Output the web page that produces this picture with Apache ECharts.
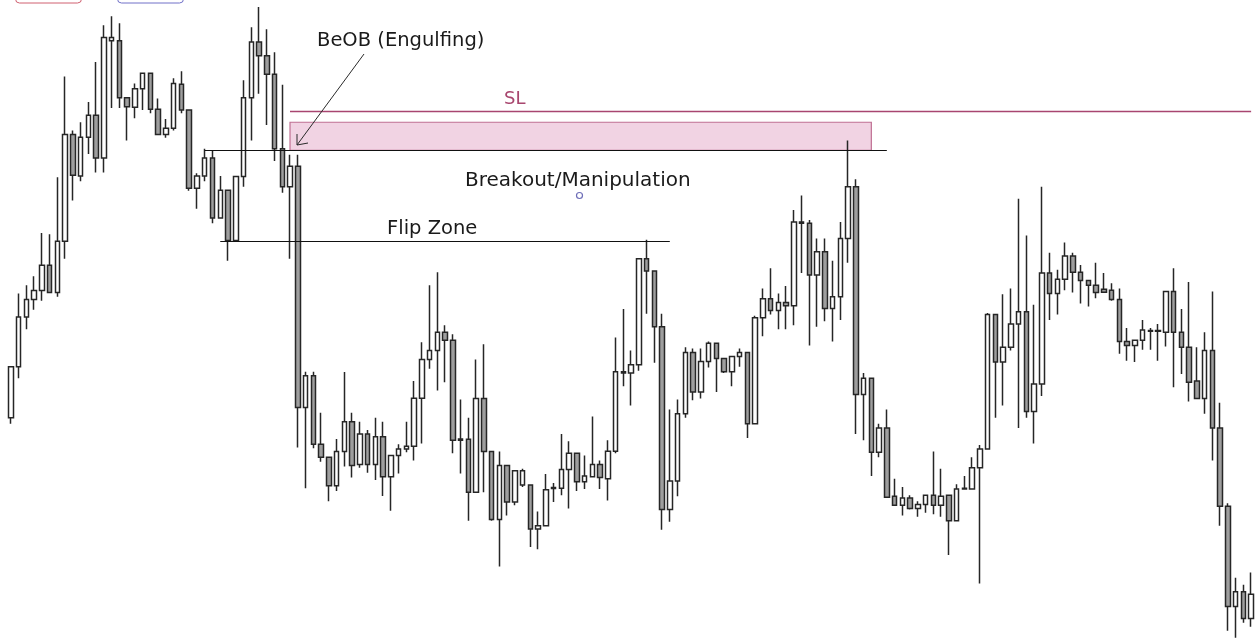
<!DOCTYPE html>
<html>
<head>
<meta charset="utf-8">
<script src="https://cdn.jsdelivr.net/npm/echarts@6/dist/echarts.min.js"></script>
<style>
html,body{margin:0;padding:0;background:#fff;}
#chart{width:1255px;height:639px;}
</style>
</head>
<body>
<div id="chart"></div>
<script>
// Price values (arbitrary price units)
const openP = [
 543,668,790,833,855,917,850,976,1238,1136,
 1231,1285,1180,1468,1468,1328,1305,1350,1388,1300,
 1238,1253,1361,1298,1106,1136,1180,1033,1101,978,
 1135,1328,1465,1431,1386,1203,1110,1160,568,646,
 478,446,376,460,533,428,503,428,496,398,
 450,466,473,591,686,708,753,733,491,490,
 360,590,460,293,426,336,378,378,270,278,
 369,370,416,456,386,398,428,393,461,653,
 653,673,933,903,766,318,388,553,703,606,
 681,726,688,656,693,703,528,788,835,806,
 826,818,1023,1020,893,950,811,840,983,1110,
 600,640,458,518,350,328,346,320,330,353,
 328,353,290,368,368,420,466,796,680,716,
 773,803,558,626,898,848,883,940,900,880,
 868,858,856,833,730,720,733,755,755,753,
 853,753,716,633,590,708,518,326,80,116,
 50
];
const closeP = [
 668,790,833,855,917,850,976,1238,1138,1231,
 1285,1180,1476,1476,1328,1306,1350,1388,1300,1238,
 1253,1363,1298,1106,1136,1180,1033,1101,978,1135,
 1328,1465,1431,1386,1203,1110,1160,568,646,478,
 446,376,460,533,426,503,428,496,398,450,
 466,473,591,686,708,753,733,488,488,360,
 590,460,293,426,336,413,413,270,278,366,
 372,416,456,386,400,428,396,461,656,656,
 673,933,903,766,318,388,553,703,606,681,
 726,688,656,693,703,528,788,835,806,826,
 818,1023,1020,893,950,811,840,983,1110,600,
 640,458,518,348,328,346,320,330,353,328,
 350,290,368,370,420,466,796,680,716,773,
 803,558,626,898,848,883,940,900,880,868,
 850,851,833,730,720,733,758,757,757,853,
 753,716,630,590,708,518,326,80,116,50,
 110
];
const lowP = [
 528,640,760,808,830,850,840,933,1076,1123,
 1190,1145,1145,1303,1303,1223,1278,1298,1290,1238,
 1230,1248,1290,1100,1056,1123,1020,1033,928,978,
 1110,1223,1338,1261,1173,1095,933,470,370,468,
 435,338,363,423,396,420,408,390,351,315,
 406,458,438,480,663,610,630,456,406,290,
 360,360,290,178,303,328,373,226,220,278,
 336,353,320,363,368,398,368,340,456,620,
 573,658,798,678,268,288,350,543,586,590,
 666,606,653,620,668,493,528,743,796,760,
 760,770,898,720,766,780,730,783,923,503,
 488,400,446,346,328,303,318,300,310,306,
 300,206,290,368,368,136,466,543,573,708,
 518,543,480,596,783,796,856,850,823,816,
 836,851,830,700,683,680,710,710,683,718,
 618,650,583,590,553,438,278,20,3,40,
 30
];
const highP = [
 668,848,868,890,996,993,1133,1380,1248,1268,
 1318,1416,1506,1528,1511,1328,1363,1388,1388,1326,
 1276,1376,1393,1300,1143,1203,1198,1136,1101,1135,
 1371,1501,1551,1496,1440,1360,1188,1188,656,656,
 555,446,491,655,555,533,513,543,533,450,
 478,533,633,728,868,900,770,748,588,543,
 686,723,460,460,426,413,418,378,313,405,
 383,503,485,456,450,546,438,488,740,810,
 708,933,980,903,798,563,588,716,713,713,
 730,726,688,693,713,703,793,860,910,848,
 866,1053,1088,1028,983,983,928,1023,1223,1128,
 653,640,528,563,393,373,353,338,353,460,
 418,353,380,400,446,476,800,796,846,860,
 1080,990,820,1110,948,906,973,948,918,880,
 923,898,873,860,763,733,783,763,773,853,
 910,810,876,716,753,853,580,333,150,133,
 163
];
const categories = openP.map((_, i) => 'C' + (i + 1));

// Annotation levels (price units)
const beobLevel = 1199;      // black level line
const zoneTop = 1268;        // top of pink order-block box
const slLevel = 1296;        // SL line
const flipLevel = 975;       // Flip Zone line

const candleData = openP.map((o, i) => [o, closeP[i], lowP[i], highP[i]]);

const textFont = '19.5px "DejaVu Sans"';

const chart = echarts.init(document.getElementById('chart'), null, {renderer: 'canvas'});
chart.setOption({
  animation: false,
  backgroundColor: '#ffffff',
  grid: {left: 7.1, top: 0, width: 1251.3, height: 639},
  xAxis: {type: 'category', data: categories, show: false, boundaryGap: true},
  yAxis: {type: 'value', min: 0, max: 1568, show: false, scale: false},
  series: [{
    type: 'candlestick',
    data: candleData,
    barWidth: 5,
    itemStyle: {
      color: '#ffffff',
      color0: '#9e9e9e',
      borderColor: '#262626',
      borderColor0: '#262626',
      borderWidth: 1.5
    },
    markArea: {
      silent: true,
      itemStyle: {color: '#f1d3e3', borderColor: '#bf6f92', borderWidth: 1.2},
      data: [[{coord: [36, zoneTop]}, {coord: [111, beobLevel]}]]
    },
    markLine: {
      silent: true,
      symbol: 'none',
      label: {show: false},
      animation: false,
      data: [
        [{coord: [25, beobLevel], lineStyle: {color: '#111111', width: 1.2, type: 'solid'}}, {coord: [113, beobLevel]}],
        [{coord: [27, flipLevel], lineStyle: {color: '#111111', width: 1.2, type: 'solid'}}, {coord: [85, flipLevel]}],
        [{coord: [36, slLevel], lineStyle: {color: '#a84670', width: 1.3, type: 'solid'}}, {coord: [160, slLevel]}]
      ]
    }
  }],
  graphic: [
    {type: 'rect', z: 100, shape: {x: 15.5, y: -12, width: 66, height: 15, r: 4}, style: {fill: 'none', stroke: '#d06070', lineWidth: 1}},
    {type: 'rect', z: 100, shape: {x: 117.5, y: -12, width: 66, height: 15, r: 4}, style: {fill: 'none', stroke: '#7070c8', lineWidth: 1}},
    {type: 'text', z: 100, x: 317, y: 41, style: {text: 'BeOB (Engulfing)', font: textFont, fill: '#1a1a1a', verticalAlign: 'middle', align: 'left'}},
    {type: 'text', z: 100, x: 504, y: 99, style: {text: 'SL', font: '18px "DejaVu Sans"', fill: '#a8466e', verticalAlign: 'middle', align: 'left'}},
    {type: 'text', z: 100, x: 465, y: 181, style: {text: 'Breakout/Manipulation', font: '20px "DejaVu Sans"', fill: '#1a1a1a', verticalAlign: 'middle', align: 'left'}},
    {type: 'text', z: 100, x: 387, y: 229, style: {text: 'Flip Zone', font: textFont, fill: '#1a1a1a', verticalAlign: 'middle', align: 'left'}},
    {type: 'circle', z: 100, shape: {cx: 579.5, cy: 195.5, r: 3}, style: {fill: '#ffffff', stroke: '#6e6eb8', lineWidth: 1.2}},
    {type: 'line', z: 100, shape: {x1: 364, y1: 54, x2: 297, y2: 145}, style: {stroke: '#2a2a2a', lineWidth: 1}},
    {type: 'polyline', z: 100, shape: {points: [[297, 134], [297, 145], [308, 143]]}, style: {stroke: '#2a2a2a', lineWidth: 1, fill: 'none'}}
  ]
});
</script>
</body>
</html>
